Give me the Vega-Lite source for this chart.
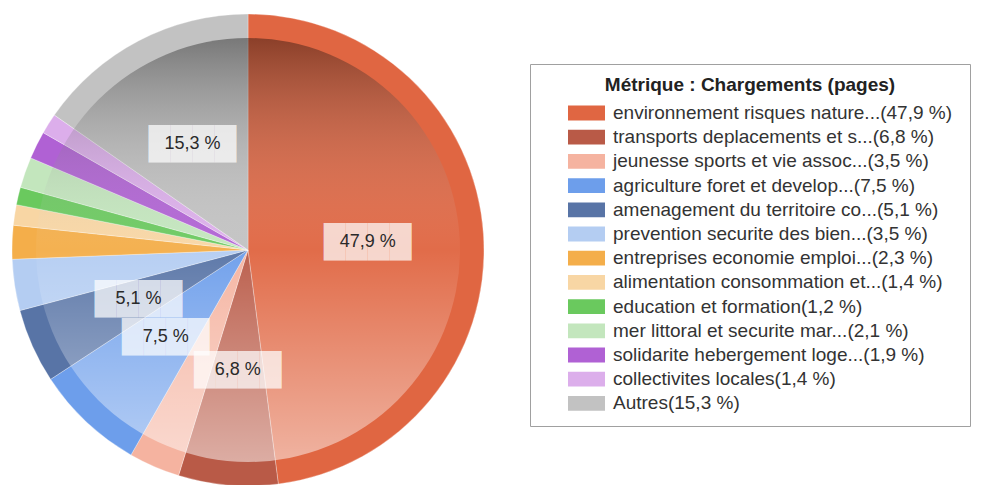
{
  "$schema": "https://vega.github.io/schema/vega-lite/v6.json",
  "width": 496,
  "height": 500,
  "autosize": {"type": "none"},
  "padding": {"left": 0, "top": 0, "right": 501, "bottom": -15},
  "background": "white",
  "data": {
    "values": [
      {"idx": 1, "category": "environnement  risques nature...(47,9 %)", "value": 47.9, "label": "47,9 %"},
      {"idx": 2, "category": "transports  deplacements et s...(6,8 %)", "value": 6.8, "label": "6,8 %"},
      {"idx": 3, "category": "jeunesse  sports et vie assoc...(3,5 %)", "value": 3.5, "label": ""},
      {"idx": 4, "category": "agriculture  foret et develop...(7,5 %)", "value": 7.5, "label": "7,5 %"},
      {"idx": 5, "category": "amenagement du territoire  co...(5,1 %)", "value": 5.1, "label": "5,1 %"},
      {"idx": 6, "category": "prevention  securite des bien...(3,5 %)", "value": 3.5, "label": ""},
      {"idx": 7, "category": "entreprises  economie  emploi...(2,3 %)", "value": 2.3, "label": ""},
      {"idx": 8, "category": "alimentation  consommation et...(1,4 %)", "value": 1.4, "label": ""},
      {"idx": 9, "category": "education et formation(1,2 %)", "value": 1.2, "label": ""},
      {"idx": 10, "category": "mer  littoral et securite mar...(2,1 %)", "value": 2.1, "label": ""},
      {"idx": 11, "category": "solidarite  hebergement  loge...(1,9 %)", "value": 1.9, "label": ""},
      {"idx": 12, "category": "collectivites locales(1,4 %)", "value": 1.4, "label": ""},
      {"idx": 13, "category": "Autres(15,3 %)", "value": 15.3, "label": "15,3 %"}
    ]
  },
  "layer": [
    {
      "mark": {"type": "arc", "outerRadius": 236, "stroke": "#ffffff", "strokeWidth": 0.6, "strokeOpacity": 0.5},
      "encoding": {
        "theta": {"field": "value", "type": "quantitative", "stack": true},
        "order": {"field": "idx", "type": "quantitative"},
        "color": {
          "field": "category",
          "type": "nominal",
          "sort": null,
          "scale": {
            "domain": [
              "environnement  risques nature...(47,9 %)",
              "transports  deplacements et s...(6,8 %)",
              "jeunesse  sports et vie assoc...(3,5 %)",
              "agriculture  foret et develop...(7,5 %)",
              "amenagement du territoire  co...(5,1 %)",
              "prevention  securite des bien...(3,5 %)",
              "entreprises  economie  emploi...(2,3 %)",
              "alimentation  consommation et...(1,4 %)",
              "education et formation(1,2 %)",
              "mer  littoral et securite mar...(2,1 %)",
              "solidarite  hebergement  loge...(1,9 %)",
              "collectivites locales(1,4 %)",
              "Autres(15,3 %)"
            ],
            "range": ["#e06642", "#b95a47", "#f5b3a0", "#6d9eeb", "#5874a6", "#b4cdf2", "#f4ae4a", "#f8d6a4", "#6ac95e", "#c3e6bd", "#b061d4", "#dcaeeb", "#c2c2c2"]
          },
          "legend": {
            "title": "Métrique :  Chargements (pages)",
            "orient": "none",
            "legendX": 530,
            "legendY": 64,
            "padding": 12,
            "symbolOffset": 31.5,
            "strokeColor": "#a0a0a0",
            "fillColor": "#ffffff",
            "titleFont": "Liberation Sans",
            "titleFontSize": 19,
            "titleFontWeight": "bold",
            "titleColor": "#222222",
            "titleAnchor": "middle",
            "titleLimit": 600,
            "titlePadding": 5,
            "labelFont": "Liberation Sans",
            "labelFontSize": 19,
            "labelColor": "#333333",
            "labelLimit": 500,
            "labelOffset": 13.5,
            "symbolType": "M-1.423,-0.57H1.423V0.57H-1.423Z",
            "symbolSize": 676,
            "symbolStrokeWidth": 0,
            "symbolOpacity": 1,
            "rowPadding": 1.2
          }
        }
      }
    },
    {
      "mark": {
        "type": "arc",
        "outerRadius": 212,
        "fill": {
          "gradient": "linear",
          "x1": 0, "y1": 0, "x2": 0, "y2": 1,
          "stops": [
            {"offset": 0, "color": "rgba(0,0,0,0.38)"},
            {"offset": 0.5, "color": "rgba(255,255,255,0.04)"},
            {"offset": 1, "color": "rgba(255,255,255,0.5)"}
          ]
        }
      },
      "encoding": {
        "theta": {"aggregate": "sum", "field": "value", "type": "quantitative", "stack": true}
      }
    },
    {
      "mark": {"type": "text", "radius": 120, "font": "Liberation Sans", "fontSize": 31, "baseline": "middle", "align": "center", "color": "#ffffff", "opacity": 0.72},
      "encoding": {
        "theta": {"field": "value", "type": "quantitative", "stack": true},
        "order": {"field": "idx", "type": "quantitative"},
        "text": {"condition": {"test": "datum.label != ''", "value": "████"}, "value": ""}
      }
    },
    {
      "mark": {"type": "text", "radius": 120, "font": "Liberation Sans", "fontSize": 18, "baseline": "middle", "align": "center", "color": "#2a2a2a"},
      "encoding": {
        "theta": {"field": "value", "type": "quantitative", "stack": true},
        "order": {"field": "idx", "type": "quantitative"},
        "text": {"field": "label", "type": "nominal"}
      }
    }
  ]
}
